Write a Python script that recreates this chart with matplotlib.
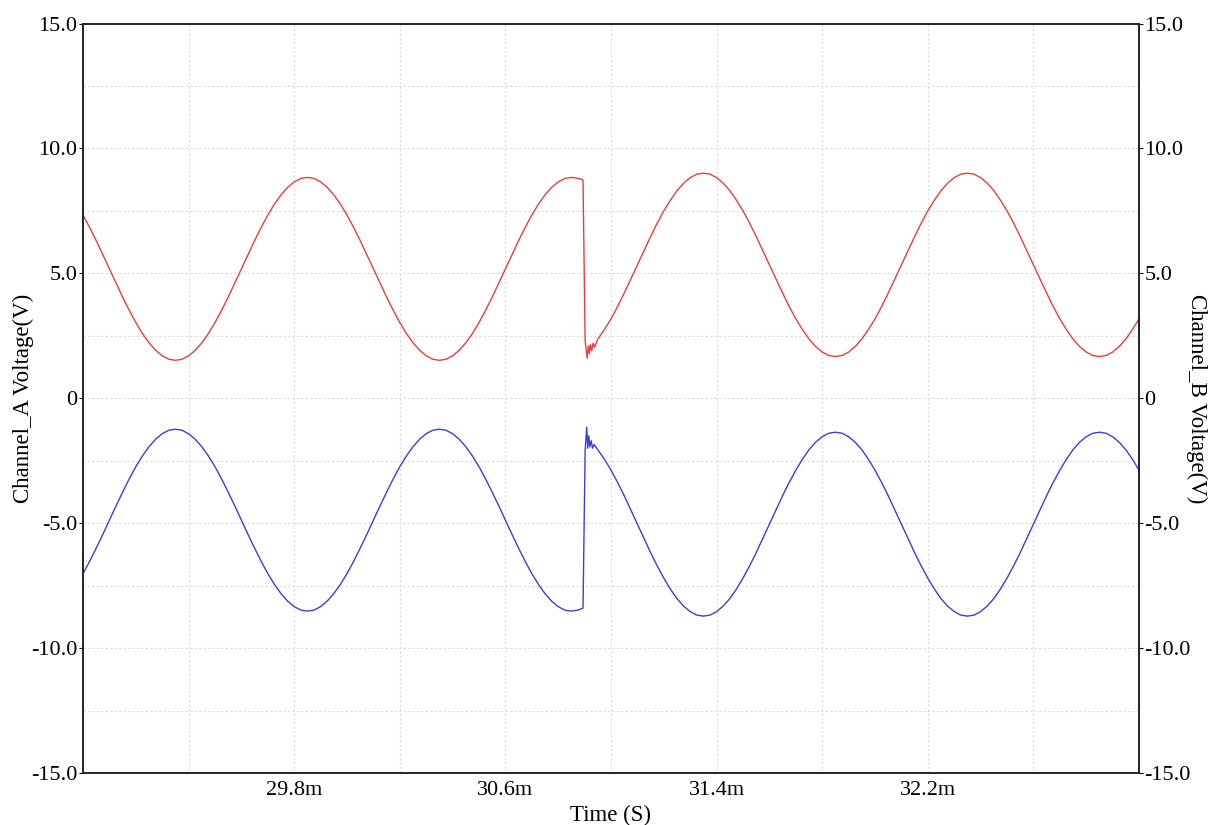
import matplotlib
matplotlib.use("Agg")
import matplotlib.pyplot as plt
from matplotlib.ticker import FixedLocator, FuncFormatter

# ---- data (time in ms, voltages in V) ----
time_pre = [29.000, 29.025, 29.050, 29.075, 29.100, 29.125, 29.150, 29.175, 29.200, 29.225,
            29.250, 29.275, 29.300, 29.325, 29.350, 29.375, 29.400, 29.425, 29.450, 29.475,
            29.500, 29.525, 29.550, 29.575, 29.600, 29.625, 29.650, 29.675, 29.700, 29.725,
            29.750, 29.775, 29.800, 29.825, 29.850, 29.875, 29.900, 29.925, 29.950, 29.975,
            30.000, 30.025, 30.050, 30.075, 30.100, 30.125, 30.150, 30.175, 30.200, 30.225,
            30.250, 30.275, 30.300, 30.325, 30.350, 30.375, 30.400, 30.425, 30.450, 30.475,
            30.500, 30.525, 30.550, 30.575, 30.600, 30.625, 30.650, 30.675, 30.700, 30.725,
            30.750, 30.775, 30.800, 30.825, 30.850, 30.875, 30.890]
time_post = [30.950, 30.975, 31.000, 31.025, 31.050, 31.075, 31.100, 31.125, 31.150, 31.175,
             31.200, 31.225, 31.250, 31.275, 31.300, 31.325, 31.350, 31.375, 31.400, 31.425,
             31.450, 31.475, 31.500, 31.525, 31.550, 31.575, 31.600, 31.625, 31.650, 31.675,
             31.700, 31.725, 31.750, 31.775, 31.800, 31.825, 31.850, 31.875, 31.900, 31.925,
             31.950, 31.975, 32.000, 32.025, 32.050, 32.075, 32.100, 32.125, 32.150, 32.175,
             32.200, 32.225, 32.250, 32.275, 32.300, 32.325, 32.350, 32.375, 32.400, 32.425,
             32.450, 32.475, 32.500, 32.525, 32.550, 32.575, 32.600, 32.625, 32.650, 32.675,
             32.700, 32.725, 32.750, 32.775, 32.800, 32.825, 32.850, 32.875, 32.900, 32.925,
             32.950, 32.975, 33.000]

ring_time_a = [30.894, 30.902, 30.910, 30.914, 30.918, 30.922, 30.927, 30.932, 30.938]
ring_time_b = [30.894, 30.902, 30.908, 30.912, 30.916, 30.920, 30.925, 30.930, 30.936]

channel_a_pre = [7.33, 6.84, 6.31, 5.75, 5.18, 4.61, 4.05, 3.52, 3.03, 2.59,
                 2.22, 1.92, 1.70, 1.56, 1.52, 1.56, 1.70, 1.92, 2.22, 2.59,
                 3.03, 3.52, 4.05, 4.61, 5.18, 5.75, 6.31, 6.84, 7.33, 7.77,
                 8.14, 8.44, 8.66, 8.80, 8.84, 8.80, 8.66, 8.44, 8.14, 7.77,
                 7.33, 6.84, 6.31, 5.75, 5.18, 4.61, 4.05, 3.52, 3.03, 2.59,
                 2.22, 1.92, 1.70, 1.56, 1.52, 1.56, 1.70, 1.92, 2.22, 2.59,
                 3.03, 3.52, 4.05, 4.61, 5.18, 5.75, 6.31, 6.84, 7.33, 7.77,
                 8.14, 8.44, 8.66, 8.80, 8.84, 8.80, 8.76]
channel_a_ring = [8.72, 2.30, 1.60, 2.10, 1.80, 2.15, 1.90, 2.20, 2.05]
channel_a_post = [2.37, 2.75, 3.18, 3.67, 4.21, 4.77, 5.34, 5.91, 6.47, 7.01,
                  7.50, 7.93, 8.31, 8.61, 8.83, 8.97, 9.01, 8.97, 8.83, 8.61,
                  8.31, 7.93, 7.50, 7.01, 6.47, 5.91, 5.34, 4.77, 4.21, 3.67,
                  3.18, 2.75, 2.37, 2.07, 1.85, 1.71, 1.67, 1.71, 1.85, 2.07,
                  2.37, 2.75, 3.18, 3.67, 4.21, 4.77, 5.34, 5.91, 6.47, 7.01,
                  7.50, 7.93, 8.31, 8.61, 8.83, 8.97, 9.01, 8.97, 8.83, 8.61,
                  8.31, 7.93, 7.50, 7.01, 6.47, 5.91, 5.34, 4.77, 4.21, 3.67,
                  3.18, 2.75, 2.37, 2.07, 1.85, 1.71, 1.67, 1.71, 1.85, 2.07,
                  2.37, 2.75, 3.18]

channel_b_pre = [-7.02, -6.53, -6.00, -5.45, -4.88, -4.31, -3.76, -3.23, -2.74, -2.31,
                 -1.94, -1.64, -1.42, -1.28, -1.24, -1.28, -1.42, -1.64, -1.94, -2.31,
                 -2.74, -3.23, -3.76, -4.31, -4.88, -5.45, -6.00, -6.53, -7.02, -7.45,
                 -7.82, -8.12, -8.34, -8.48, -8.52, -8.48, -8.34, -8.12, -7.82, -7.45,
                 -7.02, -6.53, -6.00, -5.45, -4.88, -4.31, -3.76, -3.23, -2.74, -2.31,
                 -1.94, -1.64, -1.42, -1.28, -1.24, -1.28, -1.42, -1.64, -1.94, -2.31,
                 -2.74, -3.23, -3.76, -4.31, -4.88, -5.45, -6.00, -6.53, -7.02, -7.45,
                 -7.82, -8.12, -8.34, -8.48, -8.52, -8.48, -8.42]
channel_b_ring = [-8.40, -2.10, -1.16, -2.00, -1.50, -1.95, -1.70, -2.00, -1.85]
channel_b_post = [-2.06, -2.44, -2.88, -3.37, -3.90, -4.47, -5.04, -5.61, -6.18, -6.71,
                  -7.20, -7.64, -8.02, -8.32, -8.54, -8.68, -8.72, -8.68, -8.54, -8.32,
                  -8.02, -7.64, -7.20, -6.71, -6.18, -5.61, -5.04, -4.47, -3.90, -3.37,
                  -2.88, -2.44, -2.06, -1.76, -1.54, -1.40, -1.36, -1.40, -1.54, -1.76,
                  -2.06, -2.44, -2.88, -3.37, -3.90, -4.47, -5.04, -5.61, -6.18, -6.71,
                  -7.20, -7.64, -8.02, -8.32, -8.54, -8.68, -8.72, -8.68, -8.54, -8.32,
                  -8.02, -7.64, -7.20, -6.71, -6.18, -5.61, -5.04, -4.47, -3.90, -3.37,
                  -2.88, -2.44, -2.06, -1.76, -1.54, -1.40, -1.36, -1.40, -1.54, -1.76,
                  -2.06, -2.44, -2.88]

x_major_ticks = [29.8, 30.6, 31.4, 32.2]
x_minor_ticks = [29.4, 30.2, 31.0, 31.8, 32.6]
y_major_ticks = [-15, -10, -5, 0, 5, 10, 15]
y_minor_ticks = [-12.5, -7.5, -2.5, 2.5, 7.5, 12.5]

time_a = time_pre + ring_time_a + time_post
channel_a = channel_a_pre + channel_a_ring + channel_a_post
time_b = time_pre + ring_time_b + time_post
channel_b = channel_b_pre + channel_b_ring + channel_b_post

# ---- figure ----
plt.rcParams['font.family'] = ['Liberation Serif', 'DejaVu Serif']
fig = plt.figure(figsize=(12.13, 8.25), dpi=100)
ax = fig.add_axes([83 / 1213, 1 - 773 / 825, (1139 - 83) / 1213, (773 - 23.5) / 825])
ax2 = ax.twinx()

ax.plot(time_a, channel_a, color='#e5403f', lw=1.0)
ax2.plot(time_b, channel_b, color='#3d3ddc', lw=1.0)

for a in (ax, ax2):
    a.set_xlim(29.0, 33.0)
    a.set_ylim(-15, 15)
    a.yaxis.set_major_locator(FixedLocator(y_major_ticks))
    a.yaxis.set_minor_locator(FixedLocator(y_minor_ticks))
    a.yaxis.set_major_formatter(FuncFormatter(lambda v, p: '0' if v == 0 else f'{v:.1f}'))
    a.tick_params(axis='y', which='major', length=3, width=0.8, pad=1, labelsize=16)
    a.tick_params(axis='y', which='minor', length=0)
    for s in a.spines.values():
        s.set_linewidth(1.2)
        s.set_color('#222222')

ax.xaxis.set_major_locator(FixedLocator(x_major_ticks))
ax.xaxis.set_minor_locator(FixedLocator(x_minor_ticks))
ax.xaxis.set_major_formatter(FuncFormatter(lambda v, p: f'{v:.1f}m'))
ax.tick_params(axis='x', which='major', length=0, pad=6, labelsize=16)
ax.tick_params(axis='x', which='minor', length=0)

ax.grid(True, which='both', color='#dcdcdc', lw=0.8, ls=(0, (2, 2)))
ax.set_axisbelow(True)

ax.set_xlabel('Time (S)', fontsize=16.5, labelpad=3)
ax.set_ylabel('Channel_A Voltage(V)', fontsize=16.5)
ax.yaxis.set_label_coords(-0.046, 0.5)
ax2.set_ylabel('Channel_B Voltage(V)', fontsize=16.5, rotation=270, labelpad=12)

fig.savefig('out.png', dpi=100)
